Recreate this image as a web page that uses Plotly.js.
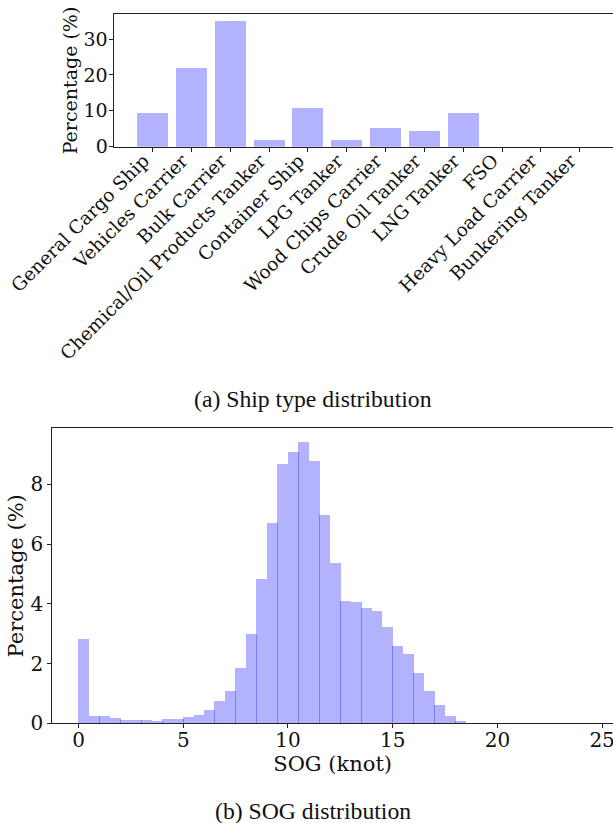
<!DOCTYPE html>
<html>
<head>
<meta charset="utf-8">
<script src="https://cdn.plot.ly/plotly-3.0.1.min.js"></script>
<style>
html,body{margin:0;padding:0;background:#ffffff;overflow:hidden;}
#chart{width:613px;height:823px;}
</style>
</head>
<body>
<div id="chart"></div>
<script>
// ---- data ----
const shipTypes = ["General Cargo Ship","Vehicles Carrier","Bulk Carrier","Chemical/Oil Products Tanker",
  "Container Ship","LPG Tanker","Wood Chips Carrier","Crude Oil Tanker","LNG Tanker","FSO",
  "Heavy Load Carrier","Bunkering Tanker"];
const shipPct = [9.3, 21.9, 35.1, 1.8, 10.9, 1.8, 5.2, 4.3, 9.3, 0.01, 0.01, 0.01];

const sogBinStart = [0, 0.5, 1, 1.5, 2, 2.5, 3, 3.5, 4, 4.5, 5, 5.5, 6, 6.5, 7, 7.5, 8, 8.5, 9, 9.5,
  10, 10.5, 11, 11.5, 12, 12.5, 13, 13.5, 14, 14.5, 15, 15.5, 16, 16.5, 17, 17.5, 18];
const sogPct = [2.83, 0.25, 0.25, 0.17, 0.11, 0.11, 0.11, 0.07, 0.15, 0.15, 0.21, 0.28, 0.45, 0.75,
  1.08, 1.85, 2.99, 4.84, 6.70, 8.69, 9.09, 9.42, 8.79, 6.97, 5.36, 4.10, 4.06, 3.86, 3.76, 3.23,
  2.59, 2.32, 1.69, 1.08, 0.61, 0.25, 0.08];
const sogTicks = [0, 5, 10, 15, 20, 25];
const shipTicks = [0, 10, 20, 30];
const sogYTicks = [0, 2, 4, 6, 8];
const binWidth = 0.5;

// ---- chart ----
const serif = "DejaVu Serif";
const barColor = "rgba(0,0,255,0.3)";
const lineCol = "#222222";
const txt = "#111111";

const traces = [
  {
    type: "bar", x: shipTypes, y: shipPct, xaxis: "x", yaxis: "y",
    width: 0.8, marker: {color: barColor, line: {width: 0}}, hoverinfo: "x+y"
  },
  {
    type: "bar", x: sogBinStart, y: sogPct, xaxis: "x2", yaxis: "y2",
    width: binWidth * 1.048, offset: -binWidth * 0.024,
    marker: {color: barColor, line: {width: 0}}, hoverinfo: "x+y"
  }
];

const axisCommon = {
  showline: true, linecolor: lineCol, linewidth: 1, showgrid: false, zeroline: false,
  ticks: "outside", ticklen: 4, tickwidth: 1, tickcolor: lineCol, fixedrange: true,
  automargin: false
};

const layout = {
  width: 613, height: 823,
  margin: {l: 0, r: 0, t: 0, b: 0},
  paper_bgcolor: "#ffffff", plot_bgcolor: "#ffffff",
  showlegend: false, bargap: 0, bargroupgap: 0,
  font: {family: serif, color: txt},
  xaxis: Object.assign({}, axisCommon, {
    domain: [0.1852, 1], anchor: "y", type: "category",
    range: [-1.01, 11.86], mirror: true, tickangle: -45,
    ticklabelstandoff: -9, ticklabelshift: -9,
    tickfont: {family: serif, size: 18.5, color: txt}
  }),
  yaxis: Object.assign({}, axisCommon, {
    domain: [0.8218, 0.9826], anchor: "x", range: [0, 36.9], ticklabelstandoff: -3,
    tickvals: shipTicks, tickfont: {family: serif, size: 19, color: txt},
    title: {text: "Percentage (%)", font: {family: serif, size: 19, color: txt}, standoff: 0}
  }),
  xaxis2: Object.assign({}, axisCommon, {
    domain: [0.0853, 1], anchor: "y2", range: [-1.256, 25.52], mirror: true,
    tickvals: sogTicks, ticklabeloverflow: "allow", ticklabelstandoff: -5,
    tickfont: {family: serif, size: 20, color: txt},
    title: {text: "SOG (knot)", font: {family: serif, size: 21, color: txt}, standoff: 0}
  }),
  yaxis2: Object.assign({}, axisCommon, {
    domain: [0.1211, 0.4796], anchor: "x2", range: [0, 9.88],
    tickvals: sogYTicks, tickfont: {family: serif, size: 20, color: txt},
    title: {text: "Percentage (%)", font: {family: serif, size: 21, color: txt}, standoff: 1}
  }),
  annotations: [
    {text: "(a) Ship type distribution", xref: "paper", yref: "paper", x: 0.511, y: 0.5152,
     xanchor: "center", yanchor: "middle", showarrow: false,
     font: {family: "Liberation Serif", size: 23.7, color: txt}},
    {text: "(b) SOG distribution", xref: "paper", yref: "paper", x: 0.511, y: 0.0146,
     xanchor: "center", yanchor: "middle", showarrow: false,
     font: {family: "Liberation Serif", size: 23.7, color: txt}}
  ]
};

Plotly.newPlot("chart", traces, layout, {displayModeBar: false, staticPlot: true});
</script>
</body>
</html>
